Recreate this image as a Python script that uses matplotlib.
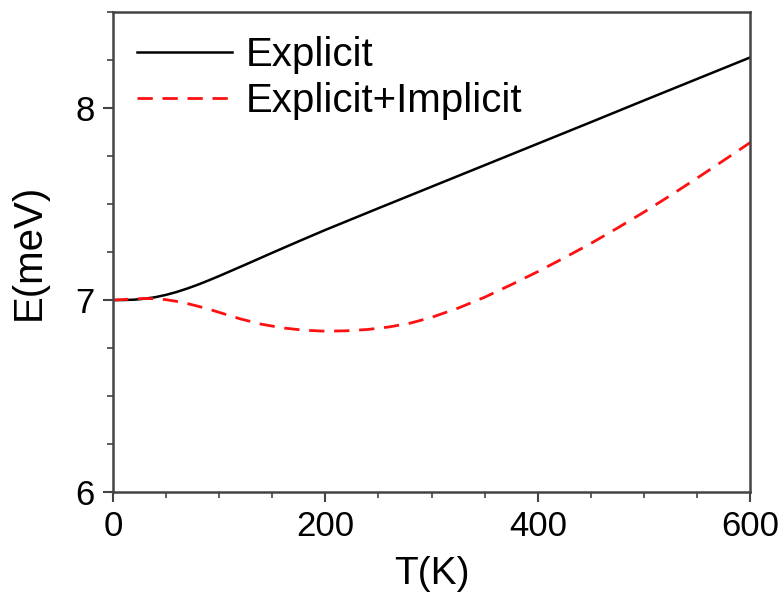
import matplotlib
matplotlib.use("Agg")
import matplotlib.pyplot as plt
from matplotlib.ticker import MultipleLocator

plt.rcParams['font.family'] = ['Liberation Sans', 'DejaVu Sans']

T_explicit = [0, 10, 20, 30, 40, 50, 60, 70, 80, 90, 100, 125, 150, 175, 200, 250, 300, 350, 400, 450, 500, 550, 600]
E_explicit = [7.0, 7.0, 7.002, 7.007, 7.015, 7.027, 7.042, 7.06, 7.08, 7.102, 7.125, 7.185, 7.246, 7.306, 7.365, 7.478, 7.59, 7.702, 7.814, 7.926, 8.039, 8.151, 8.263]

T_total = [0, 10, 20, 30, 40, 50, 60, 70, 80, 90, 100, 120, 140, 160, 180, 200, 220, 240, 260, 280, 300, 325, 350, 375, 400, 425, 450, 475, 500, 525, 550, 575, 600]
E_total = [7.0, 7.003, 7.006, 7.008, 7.007, 7.002, 6.993, 6.982, 6.968, 6.953, 6.936, 6.902, 6.874, 6.855, 6.843, 6.838, 6.84, 6.847, 6.86, 6.88, 6.91, 6.958, 7.015, 7.08, 7.148, 7.22, 7.295, 7.375, 7.458, 7.545, 7.635, 7.727, 7.82]

fig = plt.figure(figsize=(7.84, 5.93), dpi=100)
ax = fig.add_axes([0.144, 0.170, 0.813, 0.810])

ax.plot(T_explicit, E_explicit, color='black', lw=1.8, label='Explicit')
ax.plot(T_total, E_total, color='#ff1010', lw=2.0, ls=(0, (5.5, 3.5)), label='Explicit+Implicit')

ax.set_xlim(0, 600)
ax.set_ylim(6, 8.5)
ax.xaxis.set_major_locator(MultipleLocator(200))
ax.xaxis.set_minor_locator(MultipleLocator(50))
ax.yaxis.set_major_locator(MultipleLocator(1))
ax.yaxis.set_minor_locator(MultipleLocator(0.25))

spc = '#444444'
for s in ax.spines.values():
    s.set_color(spc)
    s.set_linewidth(1.8)
ax.tick_params(axis='both', which='major', direction='out', length=7, width=1.5, color=spc, labelsize=25, pad=6)
ax.tick_params(axis='both', which='minor', direction='out', length=4, width=1.2, color=spc)

ax.set_xlabel('T(K)', fontsize=28, labelpad=9)
ax.set_ylabel('E(meV)', fontsize=29, labelpad=20)

leg = ax.legend(loc='upper left', fontsize=29, frameon=False, handlelength=2.35,
                borderaxespad=0.2, labelspacing=0.2, handletextpad=0.35)

fig.savefig('out.png', dpi=100)
